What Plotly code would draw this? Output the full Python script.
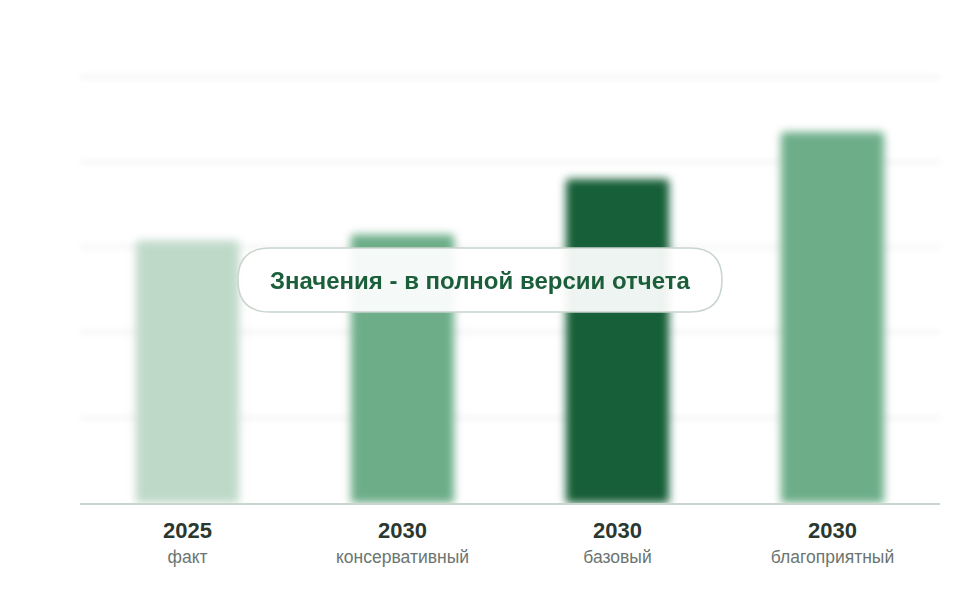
import plotly.graph_objects as go

years = ["2025", "2030", "2030", "2030"]
scenarios = ["факт", "консервативный", "базовый", "благоприятный"]
values = [61.5, 63, 76, 87]
colors = ["#bfd9c9", "#6dae89", "#175e38", "#6dae89"]
overlay_text = "Значения - в полной версии отчета"

tick_text = [
    f"<span style='font-size:22px'><b>{y}</b></span><br>"
    f"<span style='font-size:17.5px;color:#6b7571'>{s}</span>"
    for y, s in zip(years, scenarios)
]
cats = [f"{y}|{s}" for y, s in zip(years, scenarios)]

fig = go.Figure(
    go.Bar(
        x=cats,
        y=values,
        marker=dict(color=colors, line=dict(width=0), cornerradius=4),
        width=0.48,
        hoverinfo="skip",
    )
)

fig.update_layout(
    width=960,
    height=600,
    margin=dict(l=80, r=20, t=75, b=97),
    paper_bgcolor="white",
    plot_bgcolor="white",
    showlegend=False,
    font=dict(family="Liberation Sans, Arial, sans-serif", color="#2b3830"),
    xaxis=dict(
        tickmode="array",
        tickvals=cats,
        ticktext=tick_text,
        tickfont=dict(size=19.6, color="#2b3830"),
        showline=True,
        linecolor="#c9d5cd",
        linewidth=2,
        showgrid=False,
        ticks="",
        ticklabelstandoff=9,
        fixedrange=True,
    ),
    yaxis=dict(
        range=[0, 100.4],
        tickmode="array",
        tickvals=[20, 40, 60, 80, 100],
        showticklabels=False,
        showgrid=True,
        gridcolor="#f5f5f5",
        gridwidth=4,
        zeroline=False,
        fixedrange=True,
    ),
)

# rounded pill behind the overlay label (pixel-sized, anchored at paper coords)
w, h, r = 242, 32, 32
path = (
    f"M {-w + r},{-h} L {w - r},{-h} "
    f"Q {w},{-h} {w},0 Q {w},{h} {w - r},{h} "
    f"L {-w + r},{h} Q {-w},{h} {-w},0 Q {-w},{-h} {-w + r},{-h} Z"
)
fig.add_shape(
    type="path",
    xref="paper",
    yref="paper",
    xsizemode="pixel",
    ysizemode="pixel",
    xanchor=(480 - 80) / 860,
    yanchor=(503 - 280) / 428,
    path=path,
    fillcolor="rgba(255,255,255,0.93)",
    line=dict(color="#c8d4cc", width=1.5),
    layer="above",
)
fig.add_annotation(
    x=(480 - 80) / 860,
    y=(503 - 280) / 428,
    xref="paper",
    yref="paper",
    text=f"<b>{overlay_text}</b>",
    showarrow=False,
    font=dict(size=24, color="#1b5e3a", family="Liberation Sans, Arial, sans-serif"),
    xanchor="center",
    yanchor="middle",
)

post = """
document.body.style.margin = '0';
var gd = document.getElementById('{plot_id}');
function addBlur(){
  var svg = gd.querySelector('svg.main-svg');
  if(!svg) return;
  var ns = 'http://www.w3.org/2000/svg';
  if(!document.getElementById('blurBars')){
    var defs = svg.querySelector('defs') || svg.insertBefore(document.createElementNS(ns,'defs'), svg.firstChild);
    [['blurBars',4.5],['blurGrid',3]].forEach(function(d){
      var f = document.createElementNS(ns,'filter');
      f.setAttribute('id', d[0]);
      f.setAttribute('x','-20%'); f.setAttribute('y','-20%');
      f.setAttribute('width','140%'); f.setAttribute('height','140%');
      var g = document.createElementNS(ns,'feGaussianBlur');
      g.setAttribute('stdDeviation', d[1]);
      f.appendChild(g); defs.appendChild(f);
    });
  }
  gd.querySelectorAll('.barlayer').forEach(function(e){ e.setAttribute('filter','url(#blurBars)'); });
  gd.querySelectorAll('.gridlayer').forEach(function(e){ e.setAttribute('filter','url(#blurGrid)'); });
}
addBlur();
gd.on('plotly_afterplot', addBlur);
"""

fig.write_html("out.html", post_script=post, config={"displayModeBar": False})
